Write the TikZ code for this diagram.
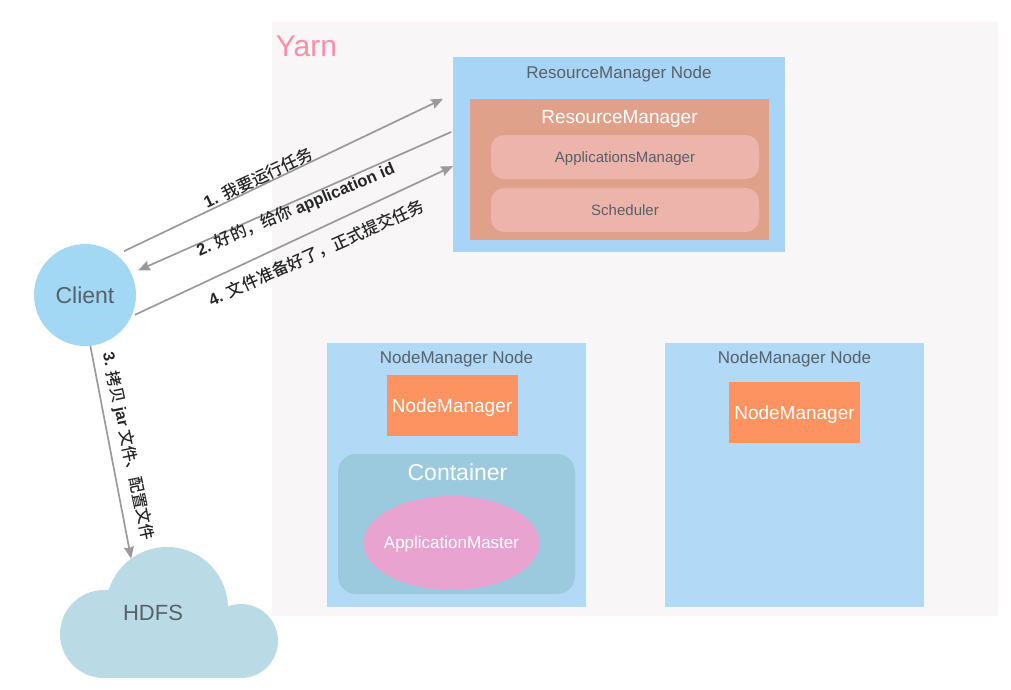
\documentclass[tikz,border=0pt]{standalone}
\usepackage{fontspec}
\setmainfont{Liberation Sans}
\newfontfamily\cjk[BoldFont=Noto Sans CJK SC Medium]{Noto Sans CJK SC}
\usetikzlibrary{arrows.meta,positioning,shapes.geometric}
\definecolor{yarnbg}{HTML}{F8F6F7}
\definecolor{yarnpink}{HTML}{FB8FAB}
\definecolor{rnblue}{HTML}{A8D5F6}
\definecolor{nnblue}{HTML}{B2D9F6}
\definecolor{rmred}{HTML}{E0A18B}
\definecolor{rmpink}{HTML}{EDB4AC}
\definecolor{nmorange}{HTML}{FD9361}
\definecolor{ctblue}{HTML}{9BCADF}
\definecolor{apviolet}{HTML}{E8A3D1}
\definecolor{hdblue}{HTML}{BADBE6}
\definecolor{clblue}{HTML}{A3D8F4}
\definecolor{inkgrey}{HTML}{55616B}
\definecolor{arrowgrey}{HTML}{9A9A9A}
\newcommand{\fs}[1]{\fontsize{#1}{#1}\selectfont}

\begin{document}
\begin{tikzpicture}[x=1pt,y=-1pt,
    box/.style={inner sep=0pt,outer sep=0pt,align=center,text depth=0pt},
    nnode/.style={box,fill=nnblue,minimum width=259pt,minimum height=264pt},
    nmgr/.style={box,fill=nmorange,minimum width=131pt,minimum height=61pt,text=white,font=\fs{19}},
    pill/.style={box,fill=rmpink,rounded corners=13pt,minimum width=268pt,minimum height=44pt,text=inkgrey,font=\fs{15}},
    title/.style={box,text=inkgrey,font=\fs{17}},
    lobe/.style={circle,box,fill=hdblue},
    lb/.style={box,font=\fs{16.5}\bfseries,text=black!85},
    a/.style={-{Stealth[length=12pt,width=10pt,inset=1.5pt]},line width=1.7pt,arrowgrey}]
    \useasboundingbox (0,0) rectangle (1011,689);
    \fill[yarnbg] (272,22) rectangle (998,616);
    \node[box,text=yarnpink,font=\fs{30}] (y) at (306.5,46) {Yarn};

    \node[box,fill=rnblue,minimum width=332pt,minimum height=195pt] (rn) at (619,154.5) {};
    \node[title] (rnt) at (619,72) {ResourceManager Node};
    \node[box,fill=rmred,minimum width=299pt,minimum height=141pt] (rm) at (619.5,169.5) {};
    \node[box,text=white,font=\fs{19}] (rmt) at (619.5,117) {ResourceManager};
    \node[pill] (am) at (625,157) {ApplicationsManager};
    \node[pill,below=9pt of am] (sc) {Scheduler};

    \node[nnode] (nn1) at (456.5,475) {};
    \node[nnode,right=79pt of nn1] (nn2) {};
    \node[title] (nt1) at (456.5,357) {NodeManager Node};
    \node[title] (nt2) at (794.5,357) {NodeManager Node};
    \node[nmgr] (nm1) at (452,405.5) {NodeManager};
    \node[nmgr] (nm2) at (794.5,412.5) {NodeManager};
    \node[box,fill=ctblue,rounded corners=18pt,minimum width=237pt,minimum height=140pt] (ct) at (456.5,524) {};
    \node[box,text=white,font=\fs{23}] (ctt) at (457.5,472) {Container};
    \node[ellipse,box,fill=apviolet,minimum width=176pt,minimum height=94pt] (ap) at (451.5,543) {};
    \node[box,text=white,font=\fs{17}] (apt) at (451.5,542) {ApplicationMaster};

    \node[circle,box,fill=clblue,minimum size=102pt,text=inkgrey,font=\fs{23}] (c) at (85,295) {Client};

    \node[lobe,minimum size=88pt] (h1) at (104,634) {};
    \node[lobe,minimum size=122pt] (h2) at (167,608) {};
    \node[lobe,minimum size=74pt] (h3) at (241,641) {};
    \fill[hdblue] (h1.center) rectangle (241,678);
    \node[box,text=inkgrey,font=\fs{22}] (hd) at (153,613) {HDFS};

    \draw[a,shorten <=8.5pt,shorten >=11pt] (c.52) -- (rn.160.5);
    \draw[a,shorten <=2pt,shorten >=7.5pt] (rn.172) -- (c.25);
    \draw[a,shorten <=4pt] (c.-25) -- (rn.184.6);
    \draw[a] (c.-84) -- (h2.126);

    \node[lb,rotate=25] (l1) at (258,177) {1. {\cjk 我要运行任务}};
    \node[lb,rotate=23] (l2) at (295,208) {2. {\cjk 好的，给你} application id};
    \node[lb,rotate=24] (l4) at (316,252) {4. {\cjk 文件准备好了，正式提交任务}};
    \node[lb,rotate=-78,font=\fs{16}\bfseries] (l3) at (129.5,446) {3. {\cjk 拷贝} jar {\cjk 文件、配置文件}};
  \end{tikzpicture}
\end{document}
